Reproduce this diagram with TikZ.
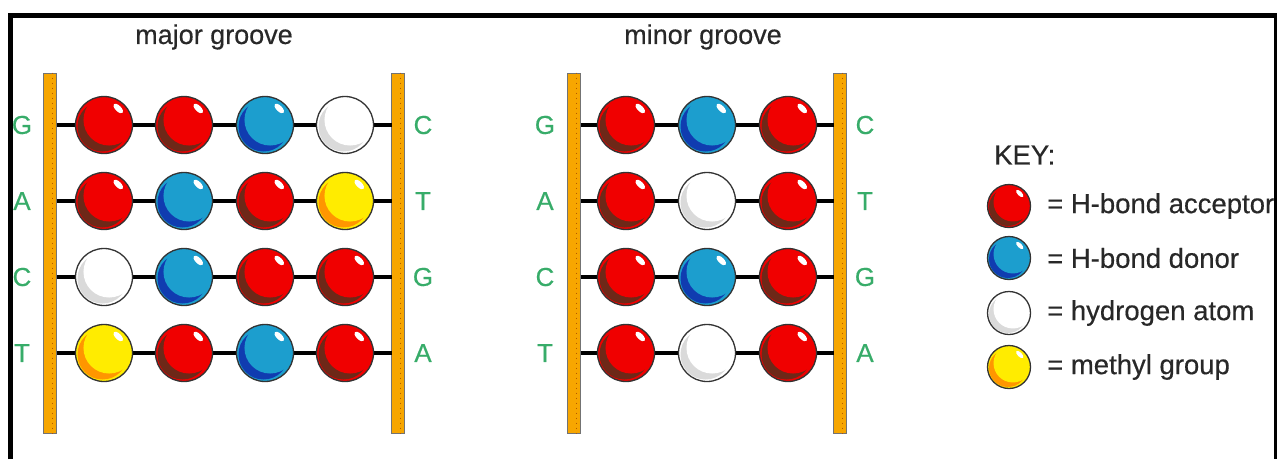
\documentclass[tikz,border=0pt]{standalone}
\usepackage{fontspec}
\setmainfont{Liberation Sans}
\newfontfamily\medfont[FakeBold=0.4]{Liberation Sans}
\usetikzlibrary{calc}
\definecolor{accR}{RGB}{240,0,0}
\definecolor{accRd}{RGB}{110,40,24}
\definecolor{donB}{RGB}{28,158,206}
\definecolor{donBd}{RGB}{16,60,176}
\definecolor{hydW}{RGB}{255,255,255}
\definecolor{hydWd}{RGB}{218,218,218}
\definecolor{metY}{RGB}{255,236,0}
\definecolor{metYd}{RGB}{255,150,0}
\definecolor{strandorange}{RGB}{247,166,0}
\definecolor{basegreen}{RGB}{55,172,105}
\definecolor{txtgray}{RGB}{40,40,40}
\tikzset{
  atom/.style n args={3}{circle, inner sep=0pt, minimum size={2*#3pt},
    draw=black!80, line width=1.3pt, fill=#1,
    path picture={
      \fill[#2] ([shift={(-0.05*#3pt,-0.05*#3pt)}]path picture bounding box.center) circle[radius=0.88*#3pt];
      \fill[#1] ([shift={(0.18*#3pt,0.18*#3pt)}]path picture bounding box.center) circle[radius=0.9*#3pt];
      \fill[white] ([shift={(0.5*#3pt,0.58*#3pt)}]path picture bounding box.center) ellipse[x radius=0.22*#3pt, y radius=0.1*#3pt, rotate=-45];
    }},
  aR/.style={atom={accR}{accRd}{#1}}, aR/.default=28.5,
  aB/.style={atom={donB}{donBd}{#1}}, aB/.default=28.5,
  aW/.style={atom={hydW}{hydWd}{#1}}, aW/.default=28.5,
  aY/.style={atom={metY}{metYd}{#1}}, aY/.default=28.5,
  strand/.style={rectangle, inner sep=0pt, minimum width=13pt, minimum height=360pt,
    fill=strandorange, draw=black!55, line width=1pt},
  rung/.style={black, line width=3.5pt},
  basel/.style={text=basegreen, font=\medfont\fontsize{26}{30}\selectfont, inner sep=0pt},
  title/.style={text=txtgray, font=\medfont\fontsize{27}{31}\selectfont, inner sep=0pt},
  keytext/.style={text=txtgray, font=\medfont\fontsize{27.5}{31}\selectfont, inner sep=0pt, anchor=west},
}
\begin{document}
\begin{tikzpicture}[x=1pt,y=-1pt]
\useasboundingbox (0,0) rectangle (1277,459);
\fill[white] (0,0) rectangle (1277,459);
% frame
\draw[black, line width=5pt, line join=miter] (10,459) -- (10,15.5) -- (1277,15.5);
\draw[black, line width=2.5pt] (1275.5,15) -- (1275.5,459);

% titles
\node[title] (tmaj) at (214,37) {major groove};
\node[title] (tmin) at (703,37) {minor groove};

% strands
\node[strand] (mjL) at (50,253) {};
\node[strand] (mjR) at (398,253) {};
\node[strand] (mnL) at (574,253) {};
\node[strand] (mnR) at (840,253) {};
\foreach \s in {mjL,mjR,mnL,mnR}{
  \draw[orange!70!black, line width=1pt, dash pattern=on 1pt off 4pt] ([xshift=2pt]\s.north) -- ([xshift=2pt]\s.south);
}

% rung end points
\foreach \i/\y in {1/125,2/201,3/277,4/353}{
  \coordinate (mjL\i) at (56.5,\y);
  \coordinate (mjR\i) at (391.5,\y);
  \coordinate (mnL\i) at (580.5,\y);
  \coordinate (mnR\i) at (833.5,\y);
  \draw[rung] (mjL\i) -- (mjR\i);
  \draw[rung] (mnL\i) -- (mnR\i);
}

% major groove atoms
\node[aR] (j11) at (104,125) {};
\node[aR] (j12) at (184,125) {};
\node[aB] (j13) at (265,125) {};
\node[aW] (j14) at (345,125) {};
\node[aR] (j21) at (104,201) {};
\node[aB] (j22) at (184,201) {};
\node[aR] (j23) at (265,201) {};
\node[aY] (j24) at (345,201) {};
\node[aW] (j31) at (104,277) {};
\node[aB] (j32) at (184,277) {};
\node[aR] (j33) at (265,277) {};
\node[aR] (j34) at (345,277) {};
\node[aY] (j41) at (104,353) {};
\node[aR] (j42) at (184,353) {};
\node[aB] (j43) at (265,353) {};
\node[aR] (j44) at (345,353) {};

% minor groove atoms
\node[aR] (n11) at (626,125) {};
\node[aB] (n12) at (707,125) {};
\node[aR] (n13) at (788,125) {};
\node[aR] (n21) at (626,201) {};
\node[aW] (n22) at (707,201) {};
\node[aR] (n23) at (788,201) {};
\node[aR] (n31) at (626,277) {};
\node[aB] (n32) at (707,277) {};
\node[aR] (n33) at (788,277) {};
\node[aR] (n41) at (626,353) {};
\node[aW] (n42) at (707,353) {};
\node[aR] (n43) at (788,353) {};

% base letters
\node[basel] (bjl1) at (22,125) {G};
\node[basel] (bjl2) at (22,201) {A};
\node[basel] (bjl3) at (22,277) {C};
\node[basel] (bjl4) at (22,353) {T};
\node[basel] (bjr1) at (423,125) {C};
\node[basel] (bjr2) at (423,201) {T};
\node[basel] (bjr3) at (423,277) {G};
\node[basel] (bjr4) at (423,353) {A};
\node[basel] (bnl1) at (545,125) {G};
\node[basel] (bnl2) at (545,201) {A};
\node[basel] (bnl3) at (545,277) {C};
\node[basel] (bnl4) at (545,353) {T};
\node[basel] (bnr1) at (865,125) {C};
\node[basel] (bnr2) at (865,201) {T};
\node[basel] (bnr3) at (865,277) {G};
\node[basel] (bnr4) at (865,353) {A};

% key
\begin{scope}
\clip (0,0) rectangle (1274,459);
\node[keytext] (key) at (994,155) {KEY:};
\node[aR=21.5] (k1) at (1009,206) {};
\node[aB=21.5] (k2) at (1009,258) {};
\node[aW=21.5] (k3) at (1009,313) {};
\node[aY=21.5] (k4) at (1009,367) {};
\node[keytext] (kt1) at (1047,206) {= H-bond acceptor};
\node[keytext] (kt2) at (1047,258) {= H-bond donor};
\node[keytext] (kt3) at (1047,313) {= hydrogen atom};
\node[keytext] (kt4) at (1047,367) {= methyl group};
\end{scope}
\end{tikzpicture}
\end{document}
